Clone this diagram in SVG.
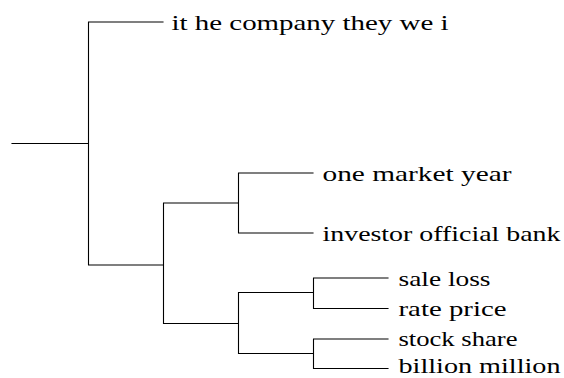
<svg xmlns="http://www.w3.org/2000/svg" width="564" height="378" viewBox="0 0 564 378">
<style>
.c{fill:none;stroke:#000;stroke-width:1.1;stroke-linecap:square}
.t{font-family:'Liberation Serif','DejaVu Serif',serif;font-size:21px;fill:#000}
</style>
<rect width="564" height="378" fill="#fff"/>
<g id="connectors">
<path class="c" d="M12,143.5H88.5M88.5,22V265M88.5,22H163M88.5,265H163.5M163.5,203V323.5M163.5,203H238.5M238.5,173V233M238.5,173H313M238.5,233H313M163.5,323.5H238.5M238.5,292.5V353.5M238.5,292.5H313.5M313.5,278V308.5M313.5,278H388M313.5,308.5H388M238.5,353.5H313.5M313.5,339V368.5M313.5,339H388M313.5,368.5H388"/>
</g>
<g id="n1"><text class="t" x="171.5" y="29.5" textLength="277" lengthAdjust="spacingAndGlyphs">it he company they we i</text></g>
<g id="n2"><text class="t" x="322.5" y="180.5" textLength="189" lengthAdjust="spacingAndGlyphs">one market year</text></g>
<g id="n3"><text class="t" x="322.5" y="240.5" textLength="238" lengthAdjust="spacingAndGlyphs">investor official bank</text></g>
<g id="n4"><text class="t" x="398.5" y="285.5" textLength="92" lengthAdjust="spacingAndGlyphs">sale loss</text></g>
<g id="n5"><text class="t" x="398.5" y="315.5" textLength="108" lengthAdjust="spacingAndGlyphs">rate price</text></g>
<g id="n6"><text class="t" x="398.5" y="346" textLength="119" lengthAdjust="spacingAndGlyphs">stock share</text></g>
<g id="n7"><text class="t" x="398.5" y="373" textLength="162" lengthAdjust="spacingAndGlyphs">billion million</text></g>
</svg>
